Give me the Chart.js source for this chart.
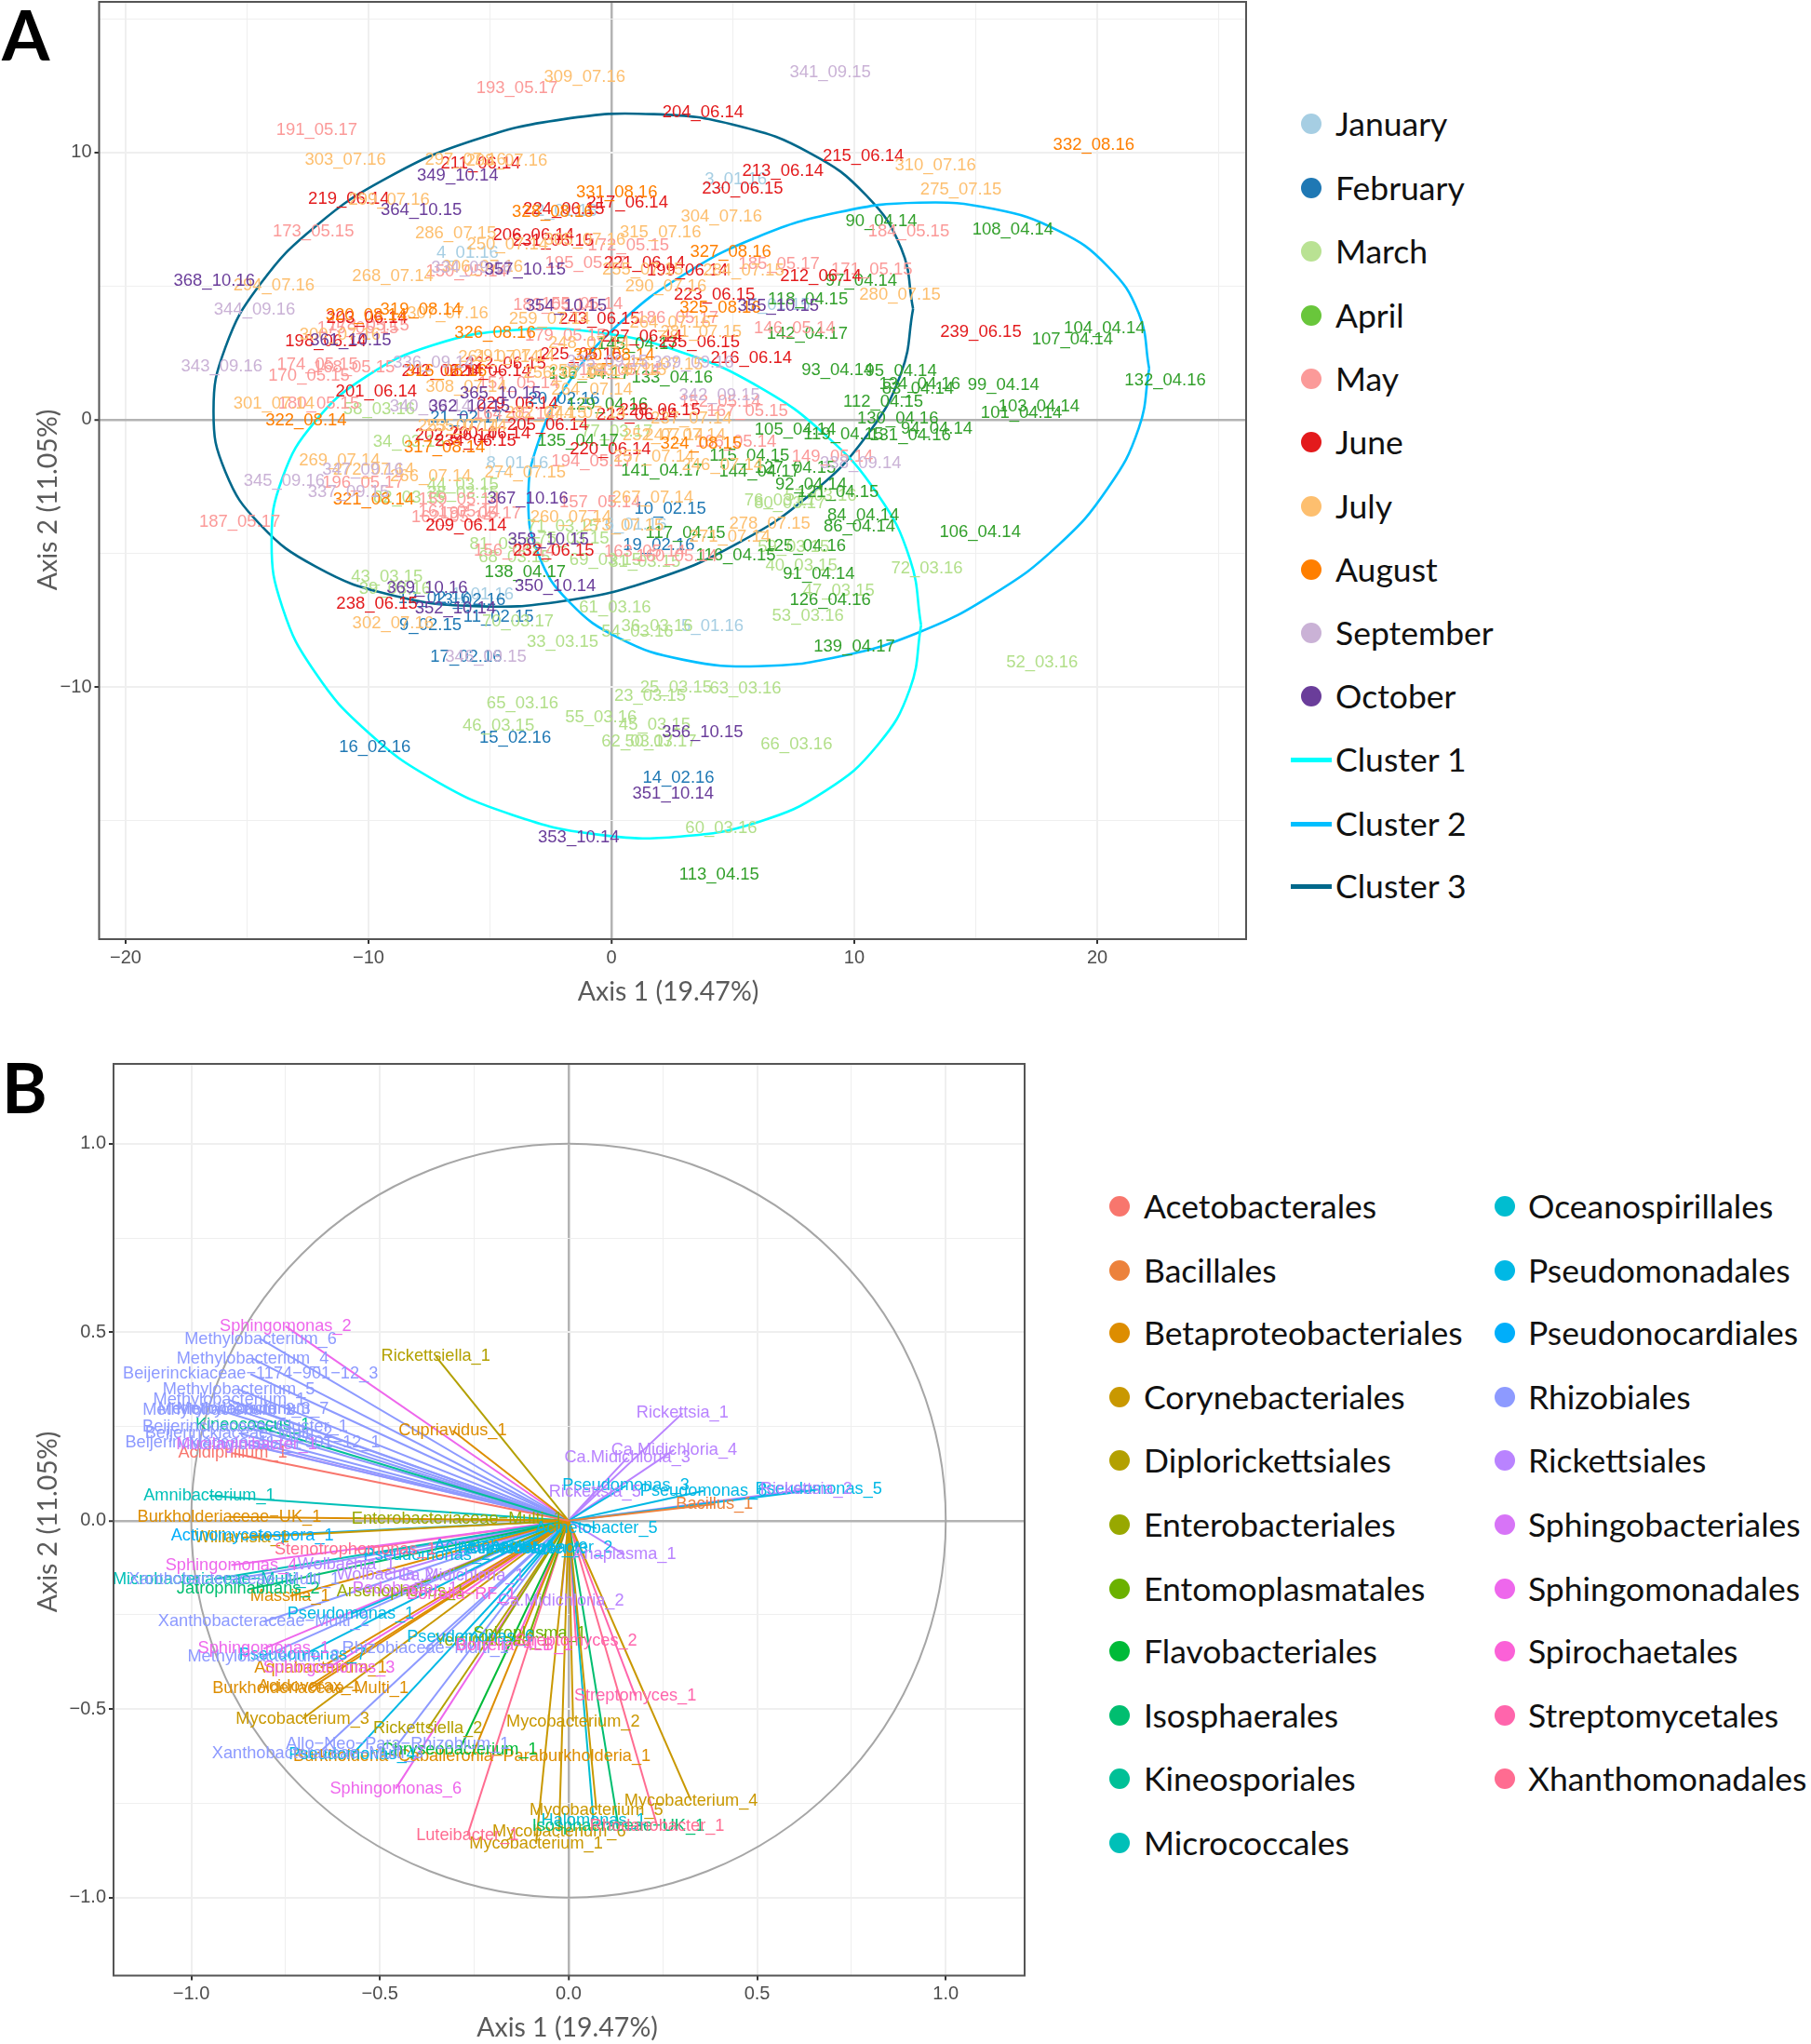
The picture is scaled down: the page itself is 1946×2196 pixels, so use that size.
<!DOCTYPE html>
<html><head><meta charset="utf-8">
<script src="https://cdn.jsdelivr.net/npm/chart.js@4/dist/chart.umd.min.js"></script>
<style>
html,body{margin:0;padding:0;background:#fff;width:1946px;height:2196px;overflow:hidden;position:relative}
canvas{position:absolute;left:0}
.t{position:absolute;font-family:Lato,sans-serif;font-size:35.5px;line-height:40px;color:#111;white-space:nowrap}
.d{position:absolute;width:22px;height:22px;border-radius:50%}
.l{position:absolute;width:44px;height:5px}
.p{position:absolute;font-family:Lato,sans-serif;font-weight:700;font-size:74px;line-height:74px;color:#000}
</style></head><body>
<canvas id="a" style="top:0px" width="1345" height="1100"></canvas>
<canvas id="b" style="top:1130px" width="1110" height="1066"></canvas>
<div id="leg"></div>
<script>
// ---------- Panel A: sample scores [label, Axis 1, Axis 2]
const january=[['3_01.16',5.12,8.97],['4_01.16',-5.92,6.24],['2_01.16',-1.86,7.8],['8_01.16',-3.87,-1.62],['5_01.16',4.16,-7.73],['1_01.16',-5.3,-6.53],['7_01.15',6.9,4.3],['6_01.16',1.0,-3.95]];
const february=[['10_02.15',2.42,-3.34],['19_02.16',1.95,-4.69],['12_02.16',-7.3,-6.68],['13_02.16',-5.83,-6.76],['11_02.15',-4.65,-7.38],['9_02.15',-7.45,-7.69],['17_02.16',-5.98,-8.86],['15_02.16',-3.96,-11.92],['16_02.16',-9.74,-12.27],['14_02.16',2.76,-13.41],['21_02.17',-5.98,0.06],['20_02.16',-1.95,0.75]];
const march=[['58_03.16',-9.56,0.38],['34_03.15',-8.34,-0.84],['44_03.15',-6.12,-2.42],['82_03.15',-8.33,-2.91],['38_03.15',-6.1,-2.75],['71_03.15',-2.01,-4.02],['75_03.15',-1.57,-4.45],['81_03.15',-4.36,-4.66],['68_03.15',-3.99,-5.16],['69_03.15',-0.25,-5.27],['31_03.15',1.37,-5.34],['43_03.15',-9.24,-5.89],['39_03.16',-8.91,-6.35],['70_03.17',-3.85,-7.54],['61_03.16',0.15,-7.02],['36_03.16',1.88,-7.73],['54_03.16',1.07,-7.93],['33_03.15',-2.01,-8.33],['25_03.15',2.66,-10.02],['23_03.15',1.59,-10.35],['63_03.16',5.52,-10.05],['65_03.16',-3.66,-10.63],['55_03.16',-0.43,-11.15],['46_03.15',-4.65,-11.46],['45_03.15',1.78,-11.43],['62_03.17',1.07,-12.04],['50_03.17',2.03,-12.06],['66_03.16',7.62,-12.16],['60_03.16',4.52,-15.29],['52_03.16',17.73,-9.07],['72_03.16',12.99,-5.57],['53_03.16',8.09,-7.34],['47_03.15',9.36,-6.41],['40_03.15',7.82,-5.45],['59_03.15',7.5,-4.78],['76_03.17',6.95,-3.03],['80_03.17',7.35,-3.12],['57_03.16',8.62,-2.87],['77_03.17',0.22,-0.46]];
const april=[['90_04.14',11.11,7.4],['108_04.14',16.53,7.09],['97_04.14',10.29,5.2],['118_04.15',8.09,4.5],['142_04.17',8.06,3.19],['104_04.14',20.3,3.4],['107_04.14',18.98,2.99],['132_04.16',22.8,1.46],['93_04.14',9.3,1.83],['95_04.14',11.92,1.8],['134_04.16',12.69,1.31],['83_04.14',12.62,1.16],['99_04.14',16.14,1.28],['103_04.14',17.6,0.5],['101_04.14',16.88,0.24],['112_04.15',11.19,0.67],['130_04.16',11.79,0.03],['131_04.16',12.3,-0.6],['94_04.14',13.39,-0.35],['105_04.14',7.57,-0.37],['119_04.15',9.55,-0.55],['115_04.15',5.68,-1.36],['144_04.17',6.1,-1.94],['127_04.15',7.57,-1.82],['141_04.17',2.07,-1.91],['92_04.14',8.22,-2.45],['121_04.15',9.33,-2.7],['84_04.14',10.37,-3.59],['86_04.14',10.21,-4.0],['106_04.14',15.18,-4.2],['117_04.15',3.05,-4.25],['116_04.15',5.12,-5.07],['125_04.16',7.98,-4.72],['91_04.14',8.54,-5.77],['126_04.16',9.01,-6.76],['139_04.17',10,-8.5],['113_04.15',4.44,-17.02],['138_04.17',-3.55,-5.71],['135_04.17',-1.38,-0.81],['129_04.16',-0.17,0.55],['136_04.17',-0.91,1.72],['133_04.16',2.5,1.56],['145_04.17',1.07,2.82]];
const may=[['193_05.17',-3.89,12.39],['191_05.17',-12.13,10.82],['173_05.15',-12.27,7.03],['172_05.15',0.7,6.51],['150_05.14',-5.97,5.52],['195_05.17',-1.06,5.86],['184_05.15',12.24,7.05],['185_05.17',6.9,5.81],['171_05.15',10.72,5.6],['183_05.14',-2.38,4.27],['155_05.14',-1.2,4.33],['175_05.15',-10.44,3.43],['178_05.15',-10.0,3.52],['179_05.15',-1.89,3.13],['174_05.15',-12.1,2.07],['168_05.15',-10.59,1.95],['170_05.15',-12.45,1.62],['180_05.15',-12.05,0.58],['186_05.17',2.73,3.8],['146_05.14',7.54,3.4],['151_05.14',-3.81,1.37],['164_05.14',-4.0,0.21],['154_05.14',0.34,1.86],['152_05.14',4.48,0.67],['167_05.15',5.6,0.3],['166_05.14',5.12,-0.84],['149_05.14',9.1,-1.39],['194_05.17',-0.8,-1.57],['196_05.17',-10.23,-2.35],['159_05.14',-6.27,-3.0],['157_05.14',-0.47,-3.09],['161_05.14',-6.27,-3.44],['162_05.14',-6.56,-3.64],['197_05.17',-5.39,-3.5],['187_05.17',-15.3,-3.82],['156_05.14',-3.99,-4.9],['163_05.14',1.37,-4.95],['160_05.14',2.69,-5.13]];
const june=[['211_06.14',-5.38,9.58],['219_06.14',-10.81,8.24],['217_06.14',0.66,8.1],['224_06.15',-1.96,7.87],['206_06.14',-3.21,6.88],['231_06.15',-2.4,6.68],['221_06.14',1.36,5.84],['203_06.14',-10.07,3.78],['198_06.14',-11.76,2.91],['243_06.15',-0.5,3.75],['227_06.14',1.24,3.1],['225_06.15',-1.25,2.44],['222_06.15',-4.36,2.09],['242_06.14',-6.96,1.8],['226_06.14',-4.98,1.82],['201_06.14',-9.68,1.04],['229_06.14',-3.87,0.58],['223_06.14',1.05,0.17],['228_06.15',2.0,0.35],['205_06.14',-2.62,-0.21],['202_06.14',-6.42,-0.58],['200_06.14',-5.0,-0.52],['234_06.15',-5.59,-0.81],['220_06.14',-0.04,-1.1],['209_06.14',-5.98,-3.96],['232_06.15',-2.38,-4.92],['238_06.15',-9.65,-6.88],['204_06.14',3.77,11.5],['215_06.14',10.37,9.84],['213_06.14',7.06,9.29],['230_06.15',5.4,8.64],['199_06.14',3.13,5.57],['223_06.15',4.24,4.68],['212_06.14',8.62,5.35],['239_06.15',15.21,3.26],['216_06.14',5.76,2.3],['235_06.15',3.61,2.9]];
const july=[['309_07.16',-1.1,12.8],['303_07.16',-10.95,9.72],['297_07.16',-6.01,9.72],['298_07.16',-4.31,9.69],['299_07.16',-9.15,8.21],['286_07.15',-6.41,6.97],['250_07.14',-4.28,6.55],['305_07.16',-1.09,6.73],['315_07.16',2.02,7.0],['268_07.14',-9.0,5.37],['306_07.16',-5.31,5.72],['294_07.16',-13.89,5.02],['255_07.15',1.29,5.6],['290_07.16',2.24,4.97],['307_07.16',-6.74,3.98],['300_07.16',-11.17,3.17],['259_07.14',-2.55,3.75],['248_07.14',-0.93,2.84],['261_07.14',-4.64,2.32],['291_07.14',-4.0,2.38],['308_07.14',-5.98,1.22],['264_07.14',-0.8,1.1],['301_07.14',-13.89,0.58],['256_07.14',-1.95,1.74],['258_07.14',-0.9,1.8],['283_07.15',0.6,1.86],['253_07.14',-6.3,-0.23],['255_07.14',-5.97,-0.26],['252_07.14',2.13,-0.58],['247_07.14',3.03,-0.58],['244_07.14',-1.06,0.23],['282_07.15',-2.7,0.23],['304_07.16',4.53,7.6],['310_07.16',13.34,9.52],['275_07.15',14.39,8.6],['284_07.15',5.44,5.57],['280_07.15',11.88,4.65],['281_07.15',3.69,3.28],['264_07.16',2.42,3.63],['276_07.15',2.1,2.07],['237_07.14',3.29,0.03],['257_07.14',1.75,-1.39],['246_07.14',4.57,-1.7],['269_07.14',-11.19,-1.54],['272_07.14',-9.79,-1.89],['266_07.14',-7.44,-2.12],['274_07.15',-3.55,-1.97],['267_07.14',1.7,-2.91],['260_07.14',-1.67,-3.67],['273_07.15',0.48,-3.96],['271_07.14',4.88,-4.37],['278_07.15',6.52,-3.9],['302_07.16',-8.99,-7.61]];
const august=[['331_08.16',0.22,8.48],['328_08.16',-2.42,7.77],['320_08.14',-10.1,3.89],['319_08.14',-7.84,4.1],['326_08.16',-4.79,3.23],['330_08.14',0.11,2.4],['316_08.16',-6.8,1.8],['322_08.14',-12.57,-0.05],['317_08.14',-6.87,-1.04],['321_08.14',-9.79,-3.0],['332_08.16',19.86,10.27],['327_08.16',4.91,6.26],['325_08.16',4.48,4.18],['324_08.15',3.69,-0.89]];
const september=[['334_09.16',-5.75,5.66],['344_09.16',-14.69,4.1],['343_09.16',-16.04,1.98],['336_09.14',-7.32,2.11],['340_09.14',-7.45,0.49],['335_09.15',-0.17,2.15],['339_09.16',3.37,2.12],['341_09.15',9.01,12.97],['342_09.15',4.45,0.9],['338_09.14',10.26,-1.65],['347_09.16',-10.23,-1.89],['345_09.16',-13.47,-2.3],['337_09.15',-10.82,-2.7],['346_09.15',-5.17,-8.86]];
const october=[['349_10.14',-6.33,9.11],['364_10.15',-7.83,7.83],['357_10.15',-3.55,5.6],['368_10.16',-16.35,5.2],['354_10.15',-1.86,4.25],['361_10.15',-10.73,2.97],['365_10.15',-4.57,0.99],['362_10.15',-5.85,0.49],['355_10.15',6.87,4.25],['367_10.16',-3.44,-2.95],['358_10.15',-2.6,-4.49],['369_10.16',-7.59,-6.29],['350_10.14',-2.31,-6.24],['352_10.14',-6.42,-7.07],['356_10.15',3.75,-11.69],['351_10.14',2.54,-14.0],['353_10.14',-1.35,-15.63]];
// ---------- Panel A: cluster outlines [Axis 1, Axis 2]
const cluster1=[[12.75,-7.69],[12.29,-5.21],[10.96,-2.79],[8.83,-0.59],[6.07,1.23],[2.84,2.54],[-0.62,3.27],[-4.08,3.35],[-7.31,2.8],[-10.07,1.63],[-12.2,-0.07],[-13.54,-2.17],[-13.99,-4.55],[-13.54,-7.03],[-12.2,-9.45],[-10.07,-11.65],[-7.31,-13.47],[-4.08,-14.78],[-0.62,-15.51],[2.84,-15.59],[6.07,-15.04],[8.83,-13.87],[10.96,-12.17],[12.29,-10.07],[12.75,-7.69]];
const cluster2=[[22.14,1.91],[21.71,3.98],[20.43,5.74],[18.4,7.07],[15.75,7.88],[12.67,8.12],[9.36,7.76],[6.05,6.85],[2.97,5.42],[0.32,3.59],[-1.71,1.47],[-2.99,-0.78],[-3.42,-3.01],[-2.99,-5.08],[-1.71,-6.84],[0.32,-8.17],[2.97,-8.98],[6.05,-9.22],[9.36,-8.86],[12.67,-7.95],[15.75,-6.51],[18.4,-4.69],[20.43,-2.57],[21.71,-0.32],[22.14,1.91]];
const cluster3=[[12.42,4.15],[11.93,6.41],[10.49,8.39],[8.2,9.96],[5.22,10.99],[1.75,11.43],[-1.98,11.24],[-5.71,10.44],[-9.18,9.07],[-12.16,7.25],[-14.45,5.08],[-15.89,2.71],[-16.38,0.31],[-15.89,-1.95],[-14.45,-3.93],[-12.16,-5.5],[-9.18,-6.53],[-5.71,-6.97],[-1.98,-6.78],[1.75,-5.98],[5.22,-4.61],[8.2,-2.79],[10.49,-0.62],[11.93,1.75],[12.42,4.15]];
// ---------- Panel B: taxa vectors [label, Axis 1, Axis 2]
const acetobacterales=[['Acidiphilium_1',-0.89,0.179]];
const bacillales=[['Bacillus_1',0.387,0.044]];
const betaproteobacteriales=[['Cupriavidus_1',-0.307,0.239],['Burkholderiaceae-UK_1',-0.899,0.01],['Massilia_1',-0.738,-0.2],['Aquabacterium_1',-0.657,-0.39],['Acidovorax_1',-0.688,-0.439],['Burkholderiaceae-Multi_1',-0.684,-0.445],['Burkholderia-Caballeronia-Paraburkholderia_1',-0.256,-0.626]];
const corynebacteriales=[['Williamsia_1',-0.866,-0.045],['Mycobacterium_3',-0.705,-0.526],['Mycobacterium_2',0.012,-0.533],['Mycobacterium_4',0.325,-0.743],['Mycobacterium_5',0.074,-0.768],['Mycobacterium_6',-0.025,-0.825],['Mycobacterium_1',-0.086,-0.857]];
const diplorickettsiales=[['Rickettsiella_1',-0.352,0.436],['Rickettsiella_2',-0.373,-0.552]];
const enterobacteriales=[['Enterobacteriaceae-Multi_1',-0.295,0.004],['Arsenophonus_1',-0.445,-0.188],['Yersiniaceae_1',-0.202,-0.32]];
const entomoplasmatales=[['Spiroplasma_1',-0.103,-0.299]];
const flavobacteriales=[['Chryseobacterium_1',-0.289,-0.608]];
const isosphaerales=[['Jatrophihabitans_2',-0.849,-0.182],['Isosphaeraceae-UK_1',0.132,-0.81]];
const kineosporiales=[['Kineococcus_1',-0.837,0.253]];
const micrococcales=[['Amnibacterium_1',-0.952,0.066],['Microbacteriaceae-Multi_1',-0.94,-0.155]];
const oceanospirillales=[['Halomonas_1',0.066,-0.795]];
const pseudomonadales=[['Pseudomonas_2',-0.375,-0.091],['Acinetobacter_1',-0.194,-0.068],['Pseudomonas_1',-0.577,-0.248],['Pseudomonas_7',-0.705,-0.357],['Pseudomonas_6',-0.26,-0.309],['Pseudomonas_4',-0.573,-0.62],['Pseudomonas_3',0.152,0.093],['Pseudomonas_8',0.358,0.079],['Pseudomonas_5',0.663,0.083],['Acinetobacter_5',0.074,-0.02],['Acinetobacter_2',-0.045,-0.072],['Acinetobacter_3',-0.111,-0.074],['Acinetobacter_4',-0.13,-0.074]];
const pseudonocardiales=[['Actinomycetospora_1',-0.838,-0.041]];
const rhizobiales=[['Methylobacterium_6',-0.816,0.482],['Methylobacterium_4',-0.837,0.43],['Beijerinckiaceae-1174-901-12_3',-0.843,0.389],['Methylobacterium_5',-0.874,0.348],['Methylobacterium_1',-0.899,0.32],['Methylobacterium_7',-0.837,0.296],['Methylobacterium_2',-0.927,0.294],['Methylobacterium_3',-0.886,0.296],['Beijerinckiaceae-Cluster_1',-0.857,0.249],['Beijerinckiaceae-Multi_2',-0.874,0.232],['Beijerinckiaceae-1174-901-12_1',-0.837,0.208],['Methylocella_1',-0.857,0.203],['Xanthobacteraceae-Multi_1',-0.886,-0.155],['Xanthobacteraceae-Multi_2',-0.808,-0.268],['Methylobacterium_8',-0.808,-0.361],['Rhizobiaceae-Multi_1',-0.379,-0.34],['Allo-Neo-Para-Rhizobium_1',-0.453,-0.594],['Xanthobacteraceae-Multi_3',-0.665,-0.619]];
const rickettsiales=[['Wolbachia_1',-0.589,-0.116],['Wolbachia_2',-0.486,-0.143],['Ca.Midichloria_1',-0.284,-0.147],['Ca.Midichloria_2',-0.02,-0.212],['Rickettsia_1',0.302,0.285],['Ca.Midichloria_4',0.28,0.188],['Ca.Midichloria_3',0.156,0.167],['Rickettsia_5',0.07,0.077],['Rickettsia_2',0.63,0.083],['Anaplasma_1',0.148,-0.09]];
const sphingobacteriales=[['Mucilaginibacter_1',-0.853,0.203],['Pedobacter_1',-0.433,-0.18]];
const sphingomonadales=[['Sphingomonas_2',-0.75,0.516],['Sphingomonas_4',-0.894,-0.118],['Sphingomonas_1',-0.808,-0.34],['Sphingomonas_3',-0.635,-0.39],['Sphingomonas_6',-0.458,-0.711]];
const spirochaetales=[['Borrelia-RF_1',-0.284,-0.196],['Borrelia-4LB_1',-0.144,-0.332]];
const streptomycetales=[['Streptomyces_2',0.02,-0.319],['Streptomyces_1',0.177,-0.465]];
const xhanthomonadales=[['Stenotrophomonas_1',-0.565,-0.077],['Luteibacter_1',-0.268,-0.835],['Rhodanobacter_1',0.235,-0.81]];

const monthNames=['January','February','March','April','May','June','July','August','September','October'];
const monthSeries=[january,february,march,april,may,june,july,august,september,october];
const monthColors=['#A6CEE3','#1F78B4','#B2DF8A','#33A02C','#FB9A99','#E31A1C','#FDBF6F','#FF7F00','#CAB2D6','#6A3D9A'];
const monthLegendColors=['#A6CEE3','#1F78B4','#B9E293','#69C63B','#FB9A99','#E31A1C','#FDBF6F','#FF7F00','#CAB2D6','#6A3D9A'];
const clusterNames=['Cluster 1','Cluster 2','Cluster 3'];
const clusterSeries=[cluster1,cluster2,cluster3];
const clusterColors=['#00FFFF','#00BFFF','#00688B'];
const orderNames=['Acetobacterales','Bacillales','Betaproteobacteriales','Corynebacteriales','Diplorickettsiales','Enterobacteriales','Entomoplasmatales','Flavobacteriales','Isosphaerales','Kineosporiales','Micrococcales','Oceanospirillales','Pseudomonadales','Pseudonocardiales','Rhizobiales','Rickettsiales','Sphingobacteriales','Sphingomonadales','Spirochaetales','Streptomycetales','Xhanthomonadales'];
const orderSeries=[acetobacterales,bacillales,betaproteobacteriales,corynebacteriales,diplorickettsiales,enterobacteriales,entomoplasmatales,flavobacteriales,isosphaerales,kineosporiales,micrococcales,oceanospirillales,pseudomonadales,pseudonocardiales,rhizobiales,rickettsiales,sphingobacteriales,sphingomonadales,spirochaetales,streptomycetales,xhanthomonadales];
const orderColors=['#F8766D','#EC823C','#DD8D00','#C99800','#B3A000','#98A800','#6BB100','#00BA38','#00BE70','#00C097','#00C0B8','#00BDD0','#00B8E5','#00AEFA','#8D9AFF','#B983FF','#D774F7','#EE67EC','#FB61D7','#FF65AC','#FF6C91'];

const minus=v=>String(v).replace(/-/g,'\u2212');
const labelPlugin={id:'marks',
 afterDatasetsDraw(c,_,o){
  const ctx=c.ctx;
  ctx.save();
  ctx.font=o.size+'px "Liberation Sans"';ctx.textAlign='center';ctx.textBaseline='middle';
  c.data.datasets.forEach((ds,i)=>{
   if(!ds.texts)return;
   const pts=c.getDatasetMeta(i).data;ctx.fillStyle=ds.textColor;
   ds.texts.forEach((t,j)=>{const p=pts[ds.tipIndex===undefined?j:ds.tipIndex];ctx.fillText(minus(t),p.x,p.y);});
  });
  const a=c.chartArea;ctx.strokeStyle='#555';ctx.lineWidth=2;ctx.strokeRect(a.left,a.top,a.right-a.left,a.bottom-a.top);
  ctx.font='28.5px Lato';ctx.fillStyle='#5A5A5A';
  ctx.fillText('Axis 1 (19.47%)',o.xTitle[0],o.xTitle[1]);
  ctx.translate(o.yTitle[0],o.yTitle[1]);ctx.rotate(-Math.PI/2);ctx.fillText('Axis 2 (11.05%)',0,0);
  ctx.restore();
 },
 beforeDatasetsDraw(c,_,o){
  if(!o.circle)return;
  const ctx=c.ctx,sx=c.scales.x,sy=c.scales.y;
  ctx.save();ctx.strokeStyle='#A6A6A6';ctx.lineWidth=2;ctx.beginPath();
  ctx.ellipse(sx.getPixelForValue(0),sy.getPixelForValue(0),sx.getPixelForValue(1)-sx.getPixelForValue(0),sy.getPixelForValue(0)-sy.getPixelForValue(1),0,0,Math.PI*2);
  ctx.stroke();ctx.restore();
 }};
function axis(o){
 const isMajor=v=>Math.abs(v/o.major-Math.round(v/o.major))<1e-6;
 return {type:'linear',min:o.min,max:o.max,position:o.pos,
  afterFit:s=>{if(o.pos==='left')s.width=o.size;else s.height=o.size;s.paddingTop=0;s.paddingBottom=0;s.paddingLeft=0;s.paddingRight=0;},
  ticks:{stepSize:o.step,includeBounds:false,autoSkip:false,maxRotation:0,minRotation:0,padding:3,color:'#4D4D4D',font:{family:'Liberation Sans',size:20},
   callback:v=>isMajor(v)?minus(o.dec?v.toFixed(o.dec):v):''},
  grid:{color:c=>c.tick.value===0?'#B3B3B3':'#EFEFEF',lineWidth:c=>c.tick.value===0?2.5:(isMajor(c.tick.value)?2:1),
   tickColor:c=>isMajor(c.tick.value)?'#333':'rgba(0,0,0,0)',tickLength:5,tickWidth:2,drawTicks:true},
  border:{display:false}};
}
Chart.defaults.animation=false;
new Chart(document.getElementById('a'),{type:'scatter',plugins:[labelPlugin],
 data:{datasets:[
  ...clusterSeries.map((s,i)=>({label:clusterNames[i],showLine:true,data:s.map(p=>({x:p[0],y:p[1]})),borderColor:clusterColors[i],borderWidth:2.6,tension:0.45,pointRadius:0,fill:false})),
  ...monthSeries.map((s,i)=>({label:monthNames[i],data:s.map(r=>({x:r[1],y:r[2]})),pointRadius:0,texts:s.map(r=>r[0]),textColor:monthColors[i]}))
 ]},
 options:{responsive:false,devicePixelRatio:1,layout:{padding:{top:2,right:6,left:0,bottom:0}},
  plugins:{legend:{display:false},tooltip:{enabled:false},marks:{size:18.5,circle:false,xTitle:[718,1066],yTitle:[52,537]}},
  scales:{x:axis({min:-21.09,max:26.13,pos:'bottom',size:91,step:5,major:10}),
          y:axis({min:-19.43,max:15.63,pos:'left',size:106.5,step:5,major:10})}}});
new Chart(document.getElementById('b'),{type:'scatter',plugins:[labelPlugin],
 data:{datasets:orderSeries.flatMap((s,i)=>s.map(r=>({label:r[0],showLine:true,data:[{x:0,y:0},{x:r[1],y:r[2]}],borderColor:orderColors[i],borderWidth:2,pointRadius:0,tension:0,texts:[r[0]],textColor:orderColors[i],tipIndex:1})))},
 options:{responsive:false,devicePixelRatio:1,layout:{padding:{top:13,right:9,left:0,bottom:0}},
  plugins:{legend:{display:false},tooltip:{enabled:false},marks:{size:18.2,circle:true,xTitle:[609.5,1048.5],yTitle:[52,505]}},
  scales:{x:axis({min:-1.206,max:1.209,pos:'bottom',size:73.5,step:0.25,major:0.5,dec:1}),
          y:axis({min:-1.207,max:1.212,pos:'left',size:122,step:0.25,major:0.5,dec:1})}}});
// ---------- legends and panel letters
const leg=document.getElementById('leg');
function add(cls,style,text){const e=document.createElement('div');e.className=cls;Object.assign(e.style,style);if(text)e.textContent=text;leg.appendChild(e);}
const legendRows=[133,201.7,270.4,339,406.5,475,543.6,612.2,679.5,748];
monthNames.forEach((n,i)=>{add('d',{left:'1398px',top:(legendRows[i]-11)+'px',background:monthLegendColors[i]});add('t',{left:'1435px',top:(legendRows[i]-20)+'px'},n);});
const clusterRows=[816,884.5,952];
clusterNames.forEach((n,i)=>{add('l',{left:'1387px',top:(clusterRows[i]-2)+'px',background:clusterColors[i]});add('t',{left:'1435px',top:(clusterRows[i]-20)+'px'},n);});
const orderRows=[1296,1365,1432,1501,1569,1638,1707,1774,1843,1911,1980];
orderNames.forEach((n,i)=>{const r=i<11?i:i-11,dx=i<11?1192:1606,tx=i<11?1229:1642;
 add('d',{left:(dx)+'px',top:(orderRows[r]-11)+'px',background:orderColors[i]});add('t',{left:tx+'px',top:(orderRows[r]-20)+'px'},n);});
add('p',{left:'2px',top:'0px'},'A');add('p',{left:'2px',top:'1131px'},'B');
</script></body></html>
